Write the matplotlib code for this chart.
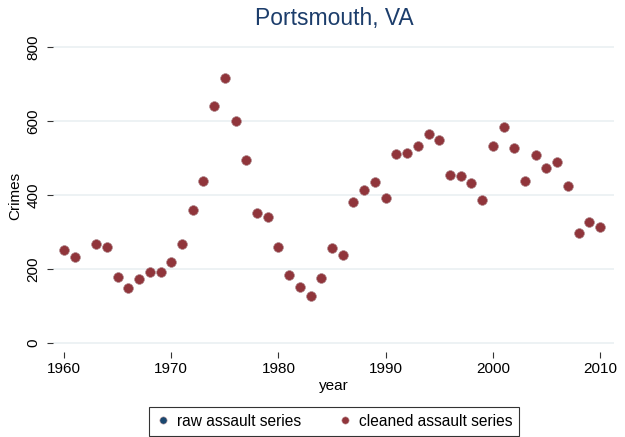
import numpy as np
import matplotlib.pyplot as plt

plt.rcParams['font.family'] = ['Liberation Sans', 'DejaVu Sans']

years = [1960, 1961, 1963, 1964, 1965, 1966, 1967, 1968, 1969, 1970,
         1971, 1972, 1973, 1974, 1975, 1976, 1977, 1978, 1979, 1980,
         1981, 1982, 1983, 1984, 1985, 1986, 1987, 1988, 1989, 1990,
         1991, 1992, 1993, 1994, 1995, 1996, 1997, 1998, 1999, 2000,
         2001, 2002, 2003, 2004, 2005, 2006, 2007, 2008, 2009, 2010]
raw = [251, 233, 268, 259, 178, 148, 173, 192, 193, 218,
       269, 359, 439, 640, 716, 599, 496, 351, 341, 261,
       183, 152, 126, 176, 258, 238, 380, 413, 434, 393,
       510, 514, 532, 565, 549, 454, 451, 433, 386, 532,
       585, 528, 438, 509, 472, 489, 424, 298, 327, 314]
cleaned = list(raw)

navy = '#1a476f'
maroon = '#90353b'

fig = plt.figure(figsize=(6.25, 4.37), dpi=100)
ax = fig.add_axes([53 / 625, 85 / 437, 561 / 625, 312 / 437])

ax.plot(years, raw, 'o', color=navy, ms=7, mec='#c9a7a9', mew=0.4,
        label='raw assault series')
ax.plot(years, cleaned, 'o', color=maroon, ms=7, mec='#c9a7a9', mew=0.4,
        label='cleaned assault series')

ax.set_xlim(1958.97, 2011.3)
ax.set_ylim(-24, 819)
ax.set_xticks([1960, 1970, 1980, 1990, 2000, 2010])
ax.set_yticks([0, 200, 400, 600, 800])
ax.yaxis.grid(True, color='#e8eff1', lw=1.1)
ax.set_axisbelow(True)
for s in ax.spines.values():
    s.set_visible(False)
ax.tick_params(axis='both', length=4, width=0.8, color='#333333', labelsize=11)
ax.tick_params(axis='y', pad=5)
for lab in ax.get_yticklabels():
    lab.set_rotation(90)
    lab.set_va('center')

ax.set_xlabel('year', fontsize=11, labelpad=2)
ax.set_ylabel('Crimes', fontsize=11, labelpad=3)
fig.text(334 / 625, 1 - 19 / 437, 'Portsmouth, VA', color='#1c3d6b', fontsize=16.5,
         ha='center', va='center')

leg = fig.legend(loc='center', bbox_to_anchor=(334 / 625, 1 - 421 / 437), ncol=2,
                 fontsize=11.2, frameon=True, fancybox=False, handletextpad=0.4,
                 columnspacing=2.3, borderpad=0.45, handlelength=1.0, markerscale=0.75)
leg.get_frame().set_edgecolor('black')
leg.get_frame().set_linewidth(0.8)

fig.savefig('out.png', dpi=100)
